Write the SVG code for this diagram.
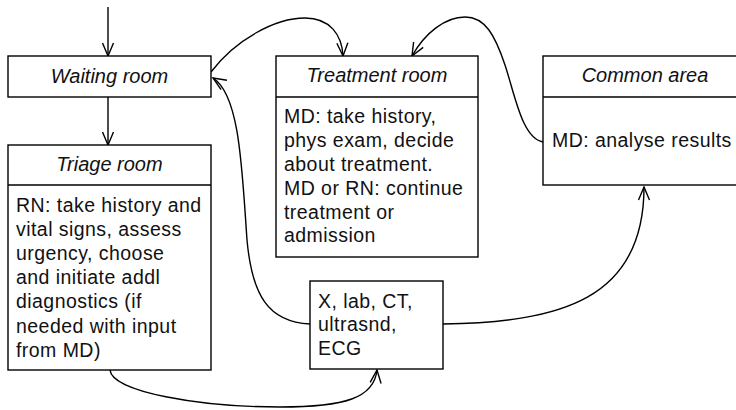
<svg xmlns="http://www.w3.org/2000/svg" width="736" height="410" viewBox="0 0 736 410">
  <defs>
    <style>
      .box { fill: #fff; stroke: #000; stroke-width: 1.4; }
      .line { fill: none; stroke: #000; stroke-width: 1.4; }
      .title { font-family: "Liberation Sans", Arial, sans-serif; font-style: italic; font-size: 20px; fill: #111; text-anchor: middle; }
      .body { font-family: "Liberation Sans", Arial, sans-serif; font-size: 19.5px; letter-spacing: 0.45px; fill: #111; }
      .edge { fill: none; stroke: #000; stroke-width: 1.4; marker-end: url(#arrow); }
    </style>
    <marker id="arrow" markerUnits="userSpaceOnUse" markerWidth="16" markerHeight="14" refX="14" refY="7" orient="auto" overflow="visible">
      <path d="M1,1.5 L14,7 L1,12.5" fill="none" stroke="#000" stroke-width="1.4"/>
    </marker>
  </defs>

  <rect width="736" height="410" fill="#fff"/>

  <g id="connectors">
    <!-- entry into the waiting room -->
    <path class="edge" d="M108,7 L108,56"/>
    <!-- waiting room to triage -->
    <path class="edge" d="M108,97 L108,145"/>
    <!-- waiting room to treatment room -->
    <path class="edge" d="M211,72 C235,40 275,18 305,18 C330,18 342,35 343,56"/>
    <!-- common area back to treatment room -->
    <path class="edge" d="M543,142 C522,138 515,95 505,65 C495,35 485,17 465,17 C445,17 425,33 412,56"/>
    <!-- diagnostics back to waiting room -->
    <path class="edge" d="M310,324 C268,322 252,295 247,240 C242,170 240,95 213,78"/>
    <!-- triage to diagnostics -->
    <path class="edge" d="M110,370 C112,392 200,407 280,407 C345,407 374,398 377,370"/>
    <!-- diagnostics to common area -->
    <path class="edge" d="M443,324 C560,322 644,300 644,187"/>
  </g>

  <g id="waiting-room">
    <rect class="box" x="8" y="56" width="203" height="41"/>
    <text class="title" x="109.5" y="83.3">Waiting room</text>
  </g>

  <g id="triage-room">
    <rect class="box" x="8" y="145" width="203" height="225"/>
    <line class="line" x1="8" y1="185" x2="211" y2="185"/>
    <text class="title" x="109.5" y="170.7">Triage room</text>
    <text class="body">
      <tspan x="16" y="211.5">RN: take history and</tspan>
      <tspan x="16" y="235.7">vital signs, assess</tspan>
      <tspan x="16" y="259.9">urgency, choose</tspan>
      <tspan x="16" y="284.1">and initiate addl</tspan>
      <tspan x="16" y="308.3">diagnostics (if</tspan>
      <tspan x="16" y="332.5">needed with input</tspan>
      <tspan x="16" y="356.7">from MD)</tspan>
    </text>
  </g>

  <g id="treatment-room">
    <rect class="box" x="276" y="56" width="202" height="201"/>
    <line class="line" x1="276" y1="97" x2="478" y2="97"/>
    <text class="title" x="377" y="81.7">Treatment room</text>
    <text class="body">
      <tspan x="284" y="123.3">MD: take history,</tspan>
      <tspan x="284" y="147.1">phys exam, decide</tspan>
      <tspan x="284" y="170.9">about treatment.</tspan>
      <tspan x="284" y="194.7">MD or RN: continue</tspan>
      <tspan x="284" y="218.5">treatment or</tspan>
      <tspan x="284" y="242.3">admission</tspan>
    </text>
  </g>

  <g id="common-area">
    <rect class="box" x="543" y="56" width="204" height="129"/>
    <line class="line" x1="543" y1="97" x2="747" y2="97"/>
    <text class="title" x="645" y="81.7">Common area</text>
    <text class="body" x="552" y="146.7">MD: analyse results</text>
  </g>

  <g id="diagnostics">
    <rect class="box" x="310" y="281" width="133" height="88"/>
    <text class="body">
      <tspan x="318" y="307.7">X, lab, CT,</tspan>
      <tspan x="318" y="331">ultrasnd,</tspan>
      <tspan x="318" y="354.5">ECG</tspan>
    </text>
  </g>
</svg>
